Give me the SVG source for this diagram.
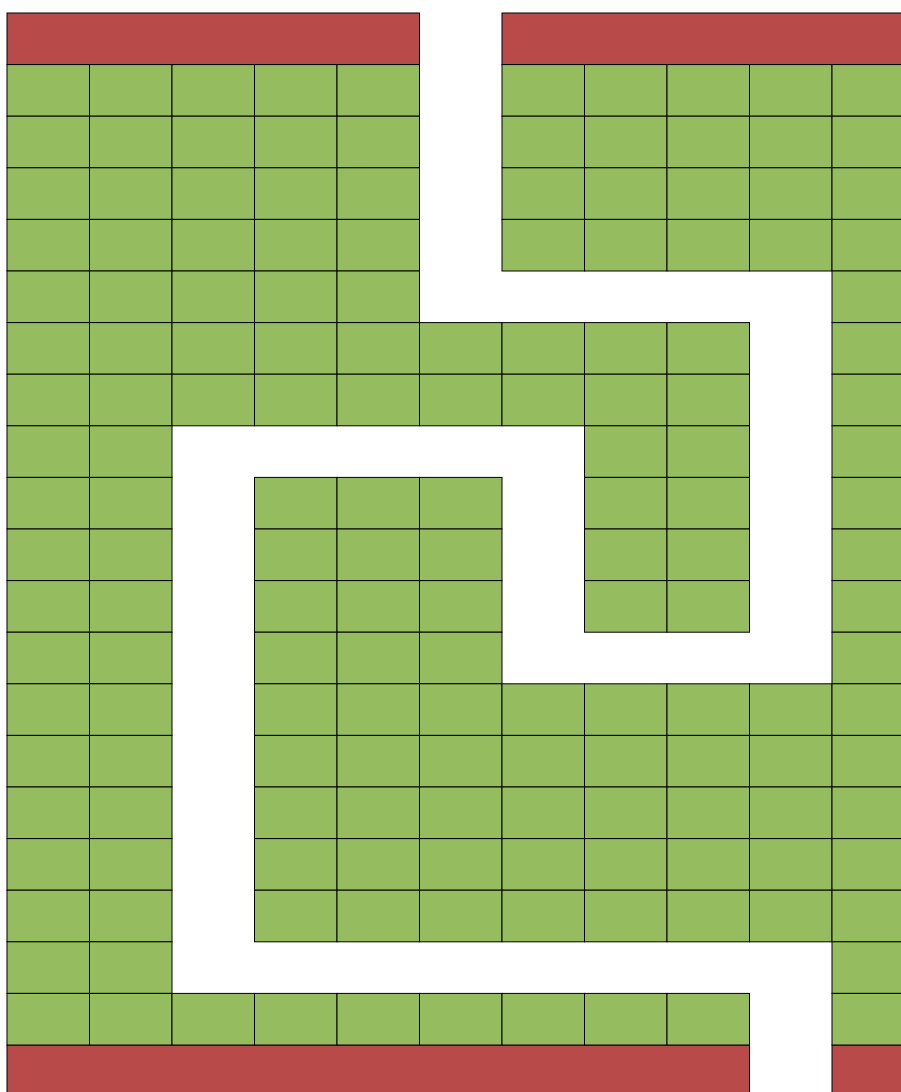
<svg xmlns="http://www.w3.org/2000/svg" xmlns:xlink="http://www.w3.org/1999/xlink" width="901" height="1092" viewBox="0 0 901 1092">
<style>
.g{fill:#95bd5f;stroke:#000;stroke-width:1}
.r{fill:#b84a4a;stroke:#000;stroke-width:1}
</style>
<defs>
<rect id="c" class="g" width="82.5" height="51.6"/>
</defs>
<rect width="901" height="1092" fill="#fff"/>
<g id="red">
<rect class="r" x="7" y="13" width="412.5" height="51.6"/>
<rect class="r" x="502" y="13" width="412.5" height="51.6"/>
<rect class="r" x="7" y="1045" width="742.5" height="51.6"/>
<rect class="r" x="832" y="1045" width="82.5" height="51.6"/>
</g>
<g id="r1">
<use href="#c" x="7" y="64.6"/><use href="#c" x="89.5" y="64.6"/><use href="#c" x="172" y="64.6"/><use href="#c" x="254.5" y="64.6"/><use href="#c" x="337" y="64.6"/>
<use href="#c" x="502" y="64.6"/><use href="#c" x="584.5" y="64.6"/><use href="#c" x="667" y="64.6"/><use href="#c" x="749.5" y="64.6"/><use href="#c" x="832" y="64.6"/>
</g>
<g id="r2">
<use href="#c" x="7" y="116.2"/><use href="#c" x="89.5" y="116.2"/><use href="#c" x="172" y="116.2"/><use href="#c" x="254.5" y="116.2"/><use href="#c" x="337" y="116.2"/>
<use href="#c" x="502" y="116.2"/><use href="#c" x="584.5" y="116.2"/><use href="#c" x="667" y="116.2"/><use href="#c" x="749.5" y="116.2"/><use href="#c" x="832" y="116.2"/>
</g>
<g id="r3">
<use href="#c" x="7" y="167.8"/><use href="#c" x="89.5" y="167.8"/><use href="#c" x="172" y="167.8"/><use href="#c" x="254.5" y="167.8"/><use href="#c" x="337" y="167.8"/>
<use href="#c" x="502" y="167.8"/><use href="#c" x="584.5" y="167.8"/><use href="#c" x="667" y="167.8"/><use href="#c" x="749.5" y="167.8"/><use href="#c" x="832" y="167.8"/>
</g>
<g id="r4">
<use href="#c" x="7" y="219.4"/><use href="#c" x="89.5" y="219.4"/><use href="#c" x="172" y="219.4"/><use href="#c" x="254.5" y="219.4"/><use href="#c" x="337" y="219.4"/>
<use href="#c" x="502" y="219.4"/><use href="#c" x="584.5" y="219.4"/><use href="#c" x="667" y="219.4"/><use href="#c" x="749.5" y="219.4"/><use href="#c" x="832" y="219.4"/>
</g>
<g id="r5">
<use href="#c" x="7" y="271"/><use href="#c" x="89.5" y="271"/><use href="#c" x="172" y="271"/><use href="#c" x="254.5" y="271"/><use href="#c" x="337" y="271"/>
<use href="#c" x="832" y="271"/>
</g>
<g id="r6">
<use href="#c" x="7" y="322.6"/><use href="#c" x="89.5" y="322.6"/><use href="#c" x="172" y="322.6"/><use href="#c" x="254.5" y="322.6"/><use href="#c" x="337" y="322.6"/><use href="#c" x="419.5" y="322.6"/><use href="#c" x="502" y="322.6"/><use href="#c" x="584.5" y="322.6"/><use href="#c" x="667" y="322.6"/>
<use href="#c" x="832" y="322.6"/>
</g>
<g id="r7">
<use href="#c" x="7" y="374.2"/><use href="#c" x="89.5" y="374.2"/><use href="#c" x="172" y="374.2"/><use href="#c" x="254.5" y="374.2"/><use href="#c" x="337" y="374.2"/><use href="#c" x="419.5" y="374.2"/><use href="#c" x="502" y="374.2"/><use href="#c" x="584.5" y="374.2"/><use href="#c" x="667" y="374.2"/>
<use href="#c" x="832" y="374.2"/>
</g>
<g id="r8">
<use href="#c" x="7" y="425.8"/><use href="#c" x="89.5" y="425.8"/>
<use href="#c" x="584.5" y="425.8"/><use href="#c" x="667" y="425.8"/>
<use href="#c" x="832" y="425.8"/>
</g>
<g id="r9">
<use href="#c" x="7" y="477.4"/><use href="#c" x="89.5" y="477.4"/>
<use href="#c" x="254.5" y="477.4"/><use href="#c" x="337" y="477.4"/><use href="#c" x="419.5" y="477.4"/>
<use href="#c" x="584.5" y="477.4"/><use href="#c" x="667" y="477.4"/>
<use href="#c" x="832" y="477.4"/>
</g>
<g id="r10">
<use href="#c" x="7" y="529"/><use href="#c" x="89.5" y="529"/>
<use href="#c" x="254.5" y="529"/><use href="#c" x="337" y="529"/><use href="#c" x="419.5" y="529"/>
<use href="#c" x="584.5" y="529"/><use href="#c" x="667" y="529"/>
<use href="#c" x="832" y="529"/>
</g>
<g id="r11">
<use href="#c" x="7" y="580.6"/><use href="#c" x="89.5" y="580.6"/>
<use href="#c" x="254.5" y="580.6"/><use href="#c" x="337" y="580.6"/><use href="#c" x="419.5" y="580.6"/>
<use href="#c" x="584.5" y="580.6"/><use href="#c" x="667" y="580.6"/>
<use href="#c" x="832" y="580.6"/>
</g>
<g id="r12">
<use href="#c" x="7" y="632.2"/><use href="#c" x="89.5" y="632.2"/>
<use href="#c" x="254.5" y="632.2"/><use href="#c" x="337" y="632.2"/><use href="#c" x="419.5" y="632.2"/>
<use href="#c" x="832" y="632.2"/>
</g>
<g id="r13">
<use href="#c" x="7" y="683.8"/><use href="#c" x="89.5" y="683.8"/>
<use href="#c" x="254.5" y="683.8"/><use href="#c" x="337" y="683.8"/><use href="#c" x="419.5" y="683.8"/><use href="#c" x="502" y="683.8"/><use href="#c" x="584.5" y="683.8"/><use href="#c" x="667" y="683.8"/><use href="#c" x="749.5" y="683.8"/><use href="#c" x="832" y="683.8"/>
</g>
<g id="r14">
<use href="#c" x="7" y="735.4"/><use href="#c" x="89.5" y="735.4"/>
<use href="#c" x="254.5" y="735.4"/><use href="#c" x="337" y="735.4"/><use href="#c" x="419.5" y="735.4"/><use href="#c" x="502" y="735.4"/><use href="#c" x="584.5" y="735.4"/><use href="#c" x="667" y="735.4"/><use href="#c" x="749.5" y="735.4"/><use href="#c" x="832" y="735.4"/>
</g>
<g id="r15">
<use href="#c" x="7" y="787"/><use href="#c" x="89.5" y="787"/>
<use href="#c" x="254.5" y="787"/><use href="#c" x="337" y="787"/><use href="#c" x="419.5" y="787"/><use href="#c" x="502" y="787"/><use href="#c" x="584.5" y="787"/><use href="#c" x="667" y="787"/><use href="#c" x="749.5" y="787"/><use href="#c" x="832" y="787"/>
</g>
<g id="r16">
<use href="#c" x="7" y="838.6"/><use href="#c" x="89.5" y="838.6"/>
<use href="#c" x="254.5" y="838.6"/><use href="#c" x="337" y="838.6"/><use href="#c" x="419.5" y="838.6"/><use href="#c" x="502" y="838.6"/><use href="#c" x="584.5" y="838.6"/><use href="#c" x="667" y="838.6"/><use href="#c" x="749.5" y="838.6"/><use href="#c" x="832" y="838.6"/>
</g>
<g id="r17">
<use href="#c" x="7" y="890.2"/><use href="#c" x="89.5" y="890.2"/>
<use href="#c" x="254.5" y="890.2"/><use href="#c" x="337" y="890.2"/><use href="#c" x="419.5" y="890.2"/><use href="#c" x="502" y="890.2"/><use href="#c" x="584.5" y="890.2"/><use href="#c" x="667" y="890.2"/><use href="#c" x="749.5" y="890.2"/><use href="#c" x="832" y="890.2"/>
</g>
<g id="r18">
<use href="#c" x="7" y="941.8"/><use href="#c" x="89.5" y="941.8"/>
<use href="#c" x="832" y="941.8"/>
</g>
<g id="r19">
<use href="#c" x="7" y="993.4"/><use href="#c" x="89.5" y="993.4"/><use href="#c" x="172" y="993.4"/><use href="#c" x="254.5" y="993.4"/><use href="#c" x="337" y="993.4"/><use href="#c" x="419.5" y="993.4"/><use href="#c" x="502" y="993.4"/><use href="#c" x="584.5" y="993.4"/><use href="#c" x="667" y="993.4"/>
<use href="#c" x="832" y="993.4"/>
</g>
</svg>
